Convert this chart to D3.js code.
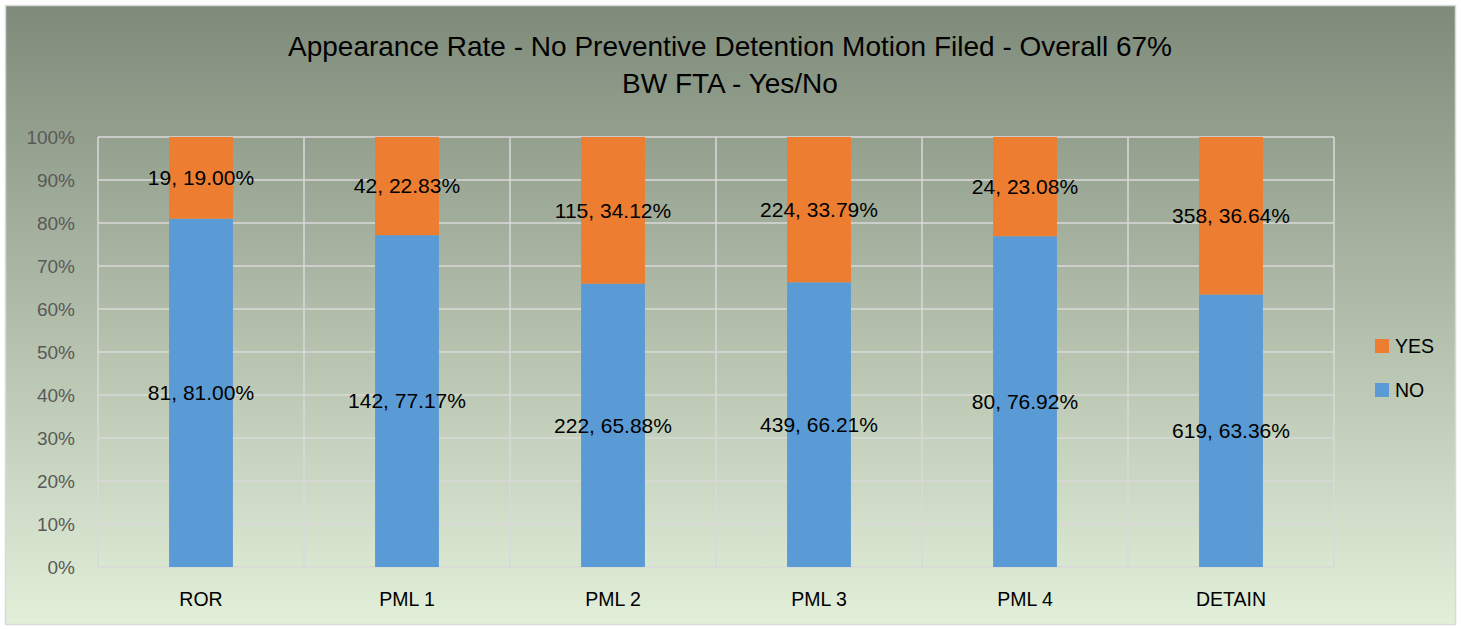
<!DOCTYPE html>
<html><head><meta charset="utf-8">
<script src="https://cdn.jsdelivr.net/npm/d3@7"></script>
<style>body{margin:0;background:#fff;}svg{display:block;}</style>
</head><body>
<svg id="c" width="1461" height="629"></svg>
<script>
const categories = ["ROR","PML 1","PML 2","PML 3","PML 4","DETAIN"];
const yesCounts = [19,42,115,224,24,358];
const noCounts = [81,142,222,439,80,619];
const yTicks = [0,0.1,0.2,0.3,0.4,0.5,0.6,0.7,0.8,0.9,1];
const titleLines = ["Appearance Rate - No Preventive Detention Motion Filed - Overall 67%","BW FTA - Yes/No"];
const seriesNames = ["YES","NO"];
const colors = {YES:"#ed7d31", NO:"#5b9bd5"};
const font = "'Liberation Sans', Arial, sans-serif";

const svg = d3.select("#c");
const defs = svg.append("defs");
const g = defs.append("linearGradient").attr("id","bg").attr("x1",0).attr("y1",0).attr("x2",0).attr("y2",1);
g.append("stop").attr("offset","0%").attr("stop-color","#7f8b7a");
g.append("stop").attr("offset","100%").attr("stop-color","#e2efd9");
svg.append("rect").attr("x",5.5).attr("y",5.5).attr("width",1450).attr("height",619)
  .attr("fill","url(#bg)").attr("stroke","#d9d9d9").attr("stroke-width",1.5);

const m = {left:98, right:1334, top:137, bottom:567};
const x = d3.scaleBand().domain(categories).range([m.left,m.right]).paddingInner(0).paddingOuter(0);
const y = d3.scaleLinear().domain([0,1]).range([m.bottom,m.top]);

const data = categories.map((c,i)=>{const t=yesCounts[i]+noCounts[i];return {c, no:noCounts[i], yes:yesCounts[i], pn:noCounts[i]/t, py:yesCounts[i]/t};});

// gridlines
const grid = svg.append("g");
grid.selectAll("line.h").data(yTicks).join("line")
  .attr("x1",m.left).attr("x2",m.right).attr("y1",d=>y(d)).attr("y2",d=>y(d))
  .attr("stroke","#d9d9d9").attr("stroke-width",1.5);
const bounds = categories.map(c=>x(c)).concat([m.right]);
grid.selectAll("line.v").data(bounds).join("line")
  .attr("x1",d=>d).attr("x2",d=>d).attr("y1",m.top).attr("y2",m.bottom)
  .attr("stroke","#d9d9d9").attr("stroke-width",1.5);

// y axis labels
const yAxis = d3.axisLeft(y).tickValues(yTicks).tickFormat(d3.format(".0%")).tickSize(0).tickPadding(0);
const ya = svg.append("g").attr("transform",`translate(${m.left-23},0)`).call(yAxis);
ya.select(".domain").remove();
ya.selectAll("text").attr("font-family",font).attr("font-size",19).attr("fill","#595959");

// x axis labels
const xAxis = d3.axisBottom(x).tickSize(0).tickPadding(0);
const xa = svg.append("g").attr("transform",`translate(0,${m.bottom+25})`).call(xAxis);
xa.select(".domain").remove();
xa.selectAll("text").attr("font-family",font).attr("font-size",19.5).attr("fill","#000");

const bw = x.bandwidth()*0.31;
const bars = svg.append("g");
bars.selectAll("rect.no").data(data).join("rect")
  .attr("x",d=>x(d.c)+x.bandwidth()/2-bw/2).attr("width",bw)
  .attr("y",d=>y(d.pn)).attr("height",d=>y(0)-y(d.pn)).attr("fill",colors.NO);
bars.selectAll("rect.yes").data(data).join("rect")
  .attr("x",d=>x(d.c)+x.bandwidth()/2-bw/2).attr("width",bw)
  .attr("y",d=>y(1)).attr("height",d=>y(d.pn)-y(1)).attr("fill",colors.YES);

const fmt = d3.format(".2%");
const lbl = svg.append("g").attr("font-family",font).attr("font-size",21).attr("fill","#000").attr("text-anchor","middle");
lbl.selectAll("text.no").data(data).join("text")
  .attr("x",d=>x(d.c)+x.bandwidth()/2).attr("y",d=>y(d.pn/2)).attr("dy","0.35em")
  .text(d=>`${d.no}, ${fmt(d.pn)}`);
lbl.selectAll("text.yes").data(data).join("text")
  .attr("x",d=>x(d.c)+x.bandwidth()/2).attr("y",d=>y(d.pn+d.py/2)).attr("dy","0.35em")
  .text(d=>`${d.yes}, ${fmt(d.py)}`);

// title
svg.append("g").selectAll("text").data(titleLines).join("text")
  .attr("x",730).attr("y",(d,i)=>56+i*37).attr("text-anchor","middle")
  .attr("font-family",font).attr("font-size",28).attr("fill","#000").text(d=>d);

// legend
const leg = svg.append("g").attr("font-family",font).attr("font-size",19.5);
seriesNames.forEach((s,i)=>{
  const yy = 346 + i*44;
  leg.append("rect").attr("x",1375).attr("y",yy-7).attr("width",14).attr("height",14).attr("fill",colors[s]);
  leg.append("text").attr("x",1395).attr("y",yy).attr("dy","0.35em").attr("fill","#000").text(s);
});
</script>
</body></html>
